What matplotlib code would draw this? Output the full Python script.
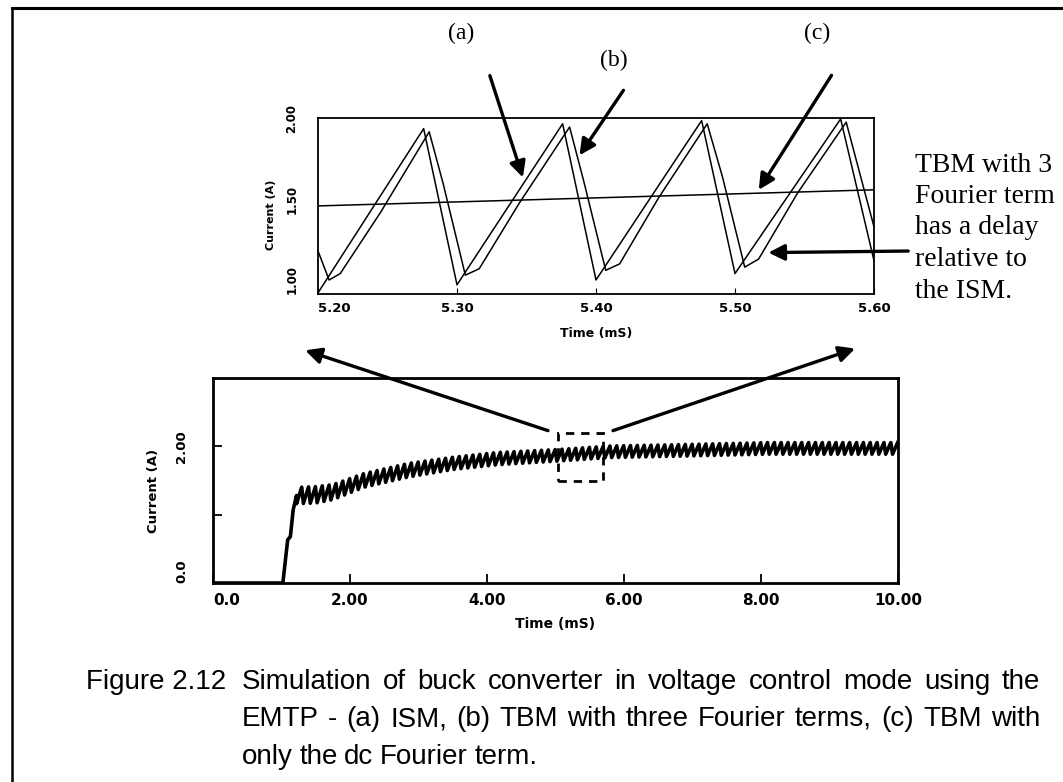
import numpy as np
import matplotlib
matplotlib.use("Agg")
import matplotlib.pyplot as plt
from matplotlib.patches import Rectangle, ConnectionPatch
from matplotlib.lines import Line2D

W, H = 1063, 782

# zoomed window (5.2 - 5.6 ms)
ism_t = [5.200, 5.276, 5.300, 5.376, 5.400, 5.476, 5.500, 5.576, 5.600]
ism_i = [0.92, 1.94, 0.97, 1.97, 1.00, 1.99, 1.04, 2.00, 1.12]

tbm3_t = [5.200, 5.208, 5.216, 5.245, 5.280, 5.290, 5.306, 5.316, 5.345, 5.381,
          5.391, 5.407, 5.417, 5.445, 5.480, 5.491, 5.507, 5.517, 5.545, 5.580, 5.600]
tbm3_i = [1.18, 1.00, 1.04, 1.42, 1.92, 1.60, 1.03, 1.07, 1.48, 1.95,
          1.62, 1.06, 1.10, 1.51, 1.97, 1.64, 1.08, 1.13, 1.54, 1.98, 1.33]

dc_t = [5.20, 5.30, 5.40, 5.50, 5.60]
dc_i = [1.46, 1.485, 1.51, 1.535, 1.56]

# full run (0 - 10 ms)
rise_t = [0.0, 1.02, 1.09, 1.13, 1.17, 1.22]
rise_i = [0.0, 0.0, 0.63, 0.68, 1.07, 1.28]
env_t = [1.22, 1.50, 1.75, 2.20, 2.85, 3.50, 4.15, 5.05, 5.80, 6.80, 8.10, 10.0]
env_mid = [1.28, 1.29, 1.33, 1.50, 1.65, 1.75, 1.82, 1.87, 1.92, 1.94, 1.97, 1.97]
env_amp = [0.12, 0.12, 0.11, 0.10, 0.10, 0.09, 0.09, 0.085, 0.085, 0.085, 0.085, 0.085]
ripple_period = 0.1
rise_part = 0.075

top_xticks = [5.20, 5.30, 5.40, 5.50, 5.60]
top_xlabels = ["5.20", "5.30", "5.40", "5.50", "5.60"]
top_yticks = [1.0, 1.5, 2.0]
top_ylabels = ["1.00", "1.50", "2.00"]
bot_xticks = [0, 2, 4, 6, 8, 10]
bot_xlabels = ["0.0", "2.00", "4.00", "6.00", "8.00", "10.00"]
bot_yticks = [0, 1, 2]
bot_ylabels = ["0.0", "", "2.00"]

caption = ["Simulation of buck converter in voltage control mode using the",
           "EMTP - (a) ISM, (b) TBM with three Fourier terms, (c) TBM with",
           "only the dc Fourier term."]
note = ["TBM with 3", "Fourier term", "has a delay", "relative to", "the ISM."]


def fx(x):
    return x / W


def fy(y):
    return 1 - y / H


bold = dict(family="DejaVu Sans", weight="bold")
serif = ["Liberation Serif", "DejaVu Serif"]
sans = ["Liberation Sans", "DejaVu Sans"]

fig = plt.figure(figsize=(W / 100, H / 100), dpi=100)
fig.patch.set_facecolor("white")

# page frame
fig.add_artist(Line2D([fx(12), 1], [fy(8), fy(8)], color="k", lw=2.2))
fig.add_artist(Line2D([fx(12), fx(12)], [fy(8), 0], color="k", lw=1.8))

# ---- zoomed plot
ax1 = fig.add_axes([fx(318), fy(294), (874 - 318) / W, (294 - 118) / H])
ax1.plot(ism_t, ism_i, color="k", lw=1.1)
ax1.plot(tbm3_t, tbm3_i, color="k", lw=1.1)
ax1.plot(dc_t, dc_i, color="k", lw=1.1)
ax1.set_xlim(5.20, 5.60)
ax1.set_ylim(0.913, 2.006)
ax1.set_xticks(top_xticks)
ax1.set_xticklabels(top_xlabels, fontsize=9.5, **bold)
ax1.set_yticks(top_yticks)
ax1.set_yticklabels(top_ylabels, fontsize=8.5, rotation=90, va="center", **bold)
ax1.tick_params(axis="x", direction="in", length=4, pad=6)
ax1.tick_params(axis="y", direction="in", length=0, pad=14)
ax1.get_xticklabels()[0].set_ha("left")
ax1.set_xlabel("Time (mS)", fontsize=9, **bold)
ax1.xaxis.set_label_coords(0.5, -0.19)
ax1.set_ylabel("Current (A)", fontsize=8, **bold)
ax1.yaxis.set_label_coords(-0.075, 0.45)
for s in ax1.spines.values():
    s.set_linewidth(1.3)

# ---- full run plot
ax2 = fig.add_axes([fx(213), fy(583), (898 - 213) / W, (583 - 378) / H])
n_cyc = int(round((env_t[-1] - env_t[0]) / ripple_period))
t_lo = env_t[0] + ripple_period * np.arange(n_cyc)
t_hi = t_lo + rise_part
lo = np.interp(t_lo, env_t, np.array(env_mid) - np.array(env_amp))
hi = np.interp(t_hi, env_t, np.array(env_mid) + np.array(env_amp))
zz_t = np.column_stack([t_lo, t_hi]).ravel()
zz_i = np.column_stack([lo, hi]).ravel()
ax2.plot(rise_t + list(zz_t), rise_i + list(zz_i), color="k", lw=2.6,
         solid_joinstyle="round")
ax2.set_xlim(0, 10)
ax2.set_ylim(0, 3)
ax2.set_xticks(bot_xticks)
ax2.set_xticklabels(bot_xlabels, fontsize=11, **bold)
ax2.set_yticks(bot_yticks)
ax2.set_yticklabels(bot_ylabels, fontsize=9.5, rotation=90, va="center", **bold)
ax2.get_xticklabels()[0].set_ha("left")
ax2.get_yticklabels()[0].set_va("bottom")
ax2.tick_params(direction="in", length=6.5, width=1.3)
ax2.tick_params(axis="x", pad=7)
ax2.tick_params(axis="y", pad=18)
ax2.set_xlabel("Time (mS)", fontsize=10, **bold)
ax2.xaxis.set_label_coords(0.5, -0.165)
ax2.set_ylabel("Current (A)", fontsize=9.5, **bold)
ax2.yaxis.set_label_coords(-0.078, 0.45)
for s in ax2.spines.values():
    s.set_linewidth(2.0)

# zoom window marker
ax2.add_patch(Rectangle((5.04, 1.50), 0.65, 0.69, fill=False, ec="k", lw=2.0,
                        linestyle=(0, (3, 2.5))))
for tail, head in [((4.89, 2.23), (-0.023, -0.32)), ((5.84, 2.23), (0.966, -0.31))]:
    fig.add_artist(ConnectionPatch(tail, head, coordsA=ax2.transData, coordsB=ax1.transAxes,
                                   arrowstyle="-|>", mutation_scale=24, lw=2.4, color="k"))

# curve labels
for lab, pos in [("(a)", (461, 33)), ("(b)", (614, 60)), ("(c)", (817, 33))]:
    fig.text(fx(pos[0]), fy(pos[1]), lab, ha="center", va="center", fontsize=17, family=serif)
for tail, head in [((489, 73), (5.348, 1.62)), ((625, 88), (5.387, 1.76)), ((833, 73), (5.516, 1.545))]:
    ax1.annotate("", xy=head, xycoords="data", xytext=(fx(tail[0]), fy(tail[1])),
                 textcoords="figure fraction", annotation_clip=False,
                 arrowprops=dict(arrowstyle="-|>", mutation_scale=24, lw=2.4, color="k"))

# side note
ax1.annotate("", xy=(5.522, 1.17), xycoords="data", xytext=(fx(911), fy(251)),
             textcoords="figure fraction", annotation_clip=False,
             arrowprops=dict(arrowstyle="-|>", mutation_scale=24, lw=2.4, color="k"))
for k, line in enumerate(note):
    fig.text(fx(915), fy(165 + 31.5 * k), line, ha="left", va="center", fontsize=20, family=serif)

# caption, justified like the book
fig.text(fx(86), fy(682), "Figure 2.12", ha="left", va="center", fontsize=20, family=sans)
renderer = fig.canvas.get_renderer()
for k, line in enumerate(caption):
    y = fy(682 + 37.5 * k)
    words = line.split()
    texts = [fig.text(0, y, w, ha="left", va="center", fontsize=20, family=sans) for w in words]
    widths = [t.get_window_extent(renderer).width for t in texts]
    if k < 2:
        gap = (1040 - 242 - sum(widths)) / (len(words) - 1)
    else:
        gap = 6.5
    x = 242
    for t, w in zip(texts, widths):
        t.set_x(fx(x))
        x += w + gap

fig.savefig("out.png", dpi=100)
